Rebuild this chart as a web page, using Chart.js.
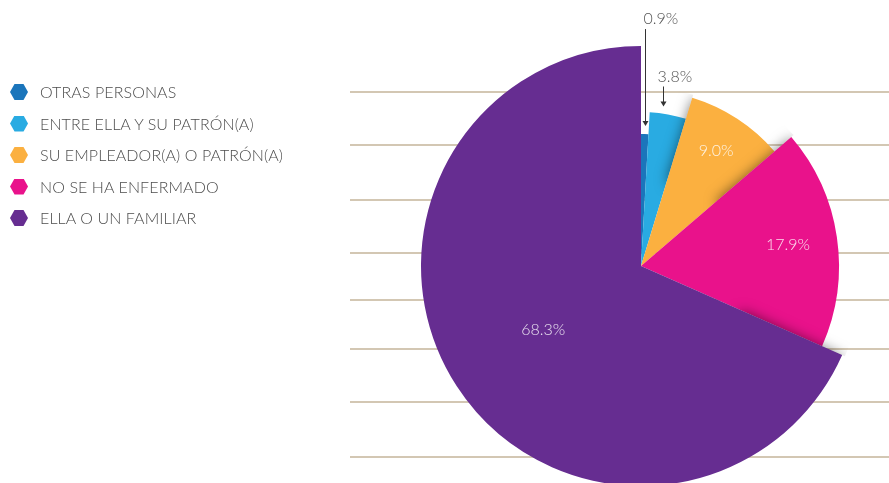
<!doctype html>
<html lang="es">
  <head>
    <meta charset="utf-8">
    <title>Pie</title>
    <style>
      * { margin: 0; padding: 0; }
      body { width: 889px; height: 483px; overflow: hidden; background: #fff; font-family: Lato, sans-serif; }
      .chartBox { position: absolute; left: 0; top: 0; width: 889px; height: 490px; }
      .legend { position: absolute; left: 10px; top: 83px; list-style: none; }
      .legend li { position: relative; height: 31.5px; line-height: 18px; padding-left: 30px; font-size: 16px; letter-spacing: 0.1px; font-weight: 300; color: #4d4d4d; }
      .legend i { position: absolute; left: 0; top: 1px; width: 18px; height: 16px;
        clip-path: polygon(25% 0, 75% 0, 100% 50%, 75% 100%, 25% 100%, 0 50%); }
    </style>
  </head>
  <body>
    <div class="chartBox"><canvas id="myChart"></canvas></div>
    <ul class="legend" id="legend"></ul>
    <script src="https://cdn.jsdelivr.net/npm/chart.js"></script>
    <script>
    // data
    const labels = ['OTRAS PERSONAS', 'ENTRE ELLA Y SU PATRÓN(A)', 'SU EMPLEADOR(A) O PATRÓN(A)', 'NO SE HA ENFERMADO', 'ELLA O UN FAMILIAR'];
    const values = [0.9, 3.8, 9.0, 17.9, 68.3];
    const valueLabels = ['0.9%', '3.8%', '9.0%', '17.9%', '68.3%'];
    const colors = ['#1b75bb', '#29abe2', '#fbb040', '#e9128b', '#662d91'];

    // each slice gets its own radius
    const radiusScale = [0.6, 0.7, 0.8, 0.9, 1.0];

    // legend
    const legendEl = document.getElementById('legend');
    labels.forEach((l, i) => {
      const li = document.createElement('li');
      li.innerHTML = '<i style="background:' + colors[i] + '"></i>' + l;
      legendEl.appendChild(li);
    });

    const bgLines = {
      id: 'bgLines',
      beforeDatasetsDraw(chart, args, opts) {
        const ctx = chart.ctx;
        ctx.save();
        ctx.strokeStyle = opts.color;
        ctx.lineWidth = 1.5;
        opts.ys.forEach(y => {
          ctx.beginPath();
          ctx.moveTo(opts.x0, y);
          ctx.lineTo(opts.x1, y);
          ctx.stroke();
        });
        ctx.restore();
      }
    };

    const varRadius = {
      id: 'varRadius',
      beforeDatasetsDraw(chart) {
        const meta = chart.getDatasetMeta(0);
        const r = meta.controller.outerRadius;
        meta.data.forEach((arc, i) => { arc.outerRadius = r * radiusScale[i]; });
      }
    };

    // shadow cast by a slice onto the one before it
    const edgeShadow = {
      id: 'edgeShadow',
      afterDatasetsDraw(chart, args, opts) {
        const ctx = chart.ctx;
        const arcs = chart.getDatasetMeta(0).data;
        opts.slices.forEach(j => {
          const a = arcs[j], b = arcs[j - 1];
          ctx.save();
          ctx.beginPath();
          ctx.moveTo(a.x, a.y);
          ctx.arc(a.x, a.y, a.outerRadius + 3, b.startAngle, b.endAngle);
          ctx.closePath();
          ctx.clip();
          ctx.shadowColor = opts.color;
          ctx.shadowBlur = opts.blur;
          ctx.fillStyle = '#000';
          ctx.beginPath();
          ctx.arc(a.x, a.y, a.outerRadius, a.startAngle + 0.01, a.startAngle + 0.35);
          ctx.arc(a.x, a.y, a.outerRadius * 0.5, a.startAngle + 0.35, a.startAngle + 0.01, true);
          ctx.closePath();
          ctx.fill();
          ctx.restore();
        });
      }
    };

    const sliceLabels = {
      id: 'sliceLabels',
      afterDatasetsDraw(chart, args, opts) {
        const ctx = chart.ctx;
        const arcs = chart.getDatasetMeta(0).data;
        ctx.save();
        ctx.font = '300 16px Lato, sans-serif';
        arcs.forEach((arc, i) => {
          const mid = (arc.startAngle + arc.endAngle) / 2;
          const inner = opts.inside[i];
          if (inner) {
            const r = arc.outerRadius * inner;
            ctx.fillStyle = 'rgba(255,255,255,0.85)';
            ctx.textAlign = 'center';
            ctx.textBaseline = 'middle';
            ctx.fillText(valueLabels[i], arc.x + r * Math.cos(mid), arc.y + r * Math.sin(mid));
            return;
          }
          const o = opts.outside[i];
          const x = Math.round(arc.x + arc.outerRadius * Math.cos(mid) + o.dx) + 0.5;
          const yEnd = arc.y + (arc.outerRadius + 8) * Math.sin(mid);
          const yStart = yEnd - o.lift;
          ctx.strokeStyle = '#333';
          ctx.fillStyle = '#333';
          ctx.lineWidth = 1;
          ctx.beginPath();
          ctx.moveTo(x, yStart);
          ctx.lineTo(x, yEnd - 4);
          ctx.stroke();
          ctx.beginPath();
          ctx.moveTo(x - 3, yEnd - 5);
          ctx.lineTo(x + 3, yEnd - 5);
          ctx.lineTo(x, yEnd);
          ctx.closePath();
          ctx.fill();
          ctx.fillStyle = '#555';
          ctx.textAlign = 'left';
          ctx.textBaseline = 'middle';
          ctx.fillText(valueLabels[i], x + o.textDx, yStart - 10);
        });
        ctx.restore();
      }
    };

    const data = {
      labels: labels,
      datasets: [{
        data: values,
        backgroundColor: colors,
        borderWidth: 0,
        hoverOffset: 0
      }]
    };

    const config = {
      type: 'pie',
      data,
      options: {
        responsive: true,
        maintainAspectRatio: false,
        animation: false,
        events: [],
        layout: { padding: { left: 421, top: 46, right: 28, bottom: 4 } },
        plugins: {
          legend: { display: false },
          tooltip: { enabled: false },
          bgLines: { ys: [92, 145, 200, 253, 300, 349, 402, 457], x0: 350, x1: 889, color: 'rgb(196,181,154)' },
          edgeShadow: { slices: [2, 3, 4], color: 'rgba(0,0,0,0.6)', blur: 14 },
          sliceLabels: {
            inside: [null, null, 0.78, 0.75, 0.53],
            outside: { 0: { dx: 0, lift: 97, textDx: -2 }, 1: { dx: -5, lift: 20, textDx: -6 } }
          }
        }
      },
      plugins: [bgLines, varRadius, edgeShadow, sliceLabels]
    };

    const myChart = new Chart(document.getElementById('myChart'), config);
    </script>
  </body>
</html>
